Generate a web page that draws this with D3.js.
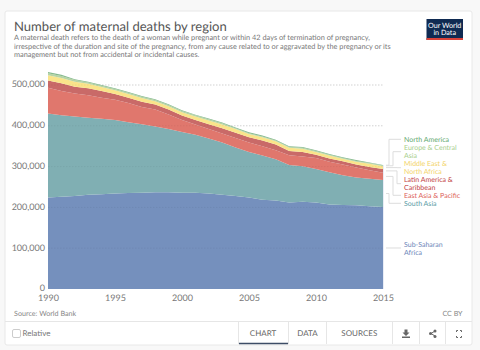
<!DOCTYPE html>
<html>
<head>
<meta charset="utf-8">
<script src="https://cdnjs.cloudflare.com/ajax/libs/d3/7.8.5/d3.min.js"></script>
<style>
    html, body { margin: 0; padding: 0; background: #f8f8f8; overflow: hidden; }
    text { font-family: Lato, "Open Sans", sans-serif; text-rendering: geometricPrecision; }
</style>
</head>
<body>
<svg id="chart" width="480" height="350"></svg>
<script>
const years = d3.range(1990, 2016);
const yTicks = [0, 100000, 200000, 300000, 400000, 500000];
const xTicks = [1990, 1995, 2000, 2005, 2010, 2015];

// values in thousands of deaths
const subSaharanAfrica = [224, 226, 228, 231, 232, 234, 235, 236, 237, 237, 236, 236, 234, 231, 228, 224, 219, 217, 212, 214, 212, 207, 206, 205, 203, 201];
const southAsia = [206, 200, 195, 189, 185, 180, 174, 168, 161, 155, 149, 142, 135, 128, 119, 112, 108, 101, 92, 87, 82, 79, 73, 68, 67, 66];
const eastAsiaPacific = [63, 59, 56, 55, 52, 50, 47, 42, 42, 36, 29, 25, 23, 22, 23, 23, 23, 22, 24, 24, 27, 26, 26, 25, 21, 18];
const latinAmerica = [18, 19, 17, 17, 16, 14, 13, 13, 12, 12, 11, 11, 12, 13, 13, 13, 14, 14, 10, 11, 8, 8, 8, 7, 8, 9];
const middleEast = [13, 13, 12, 11, 10, 9, 9, 9, 8, 8, 8, 9, 9, 9, 9, 8, 8, 8, 8, 8, 7, 7, 6, 7, 8, 7];
const europeCentralAsia = [5, 5, 4, 3, 3, 3, 3, 3, 3, 3, 3, 3, 3, 3, 2, 2, 2, 2, 2, 2, 2, 2, 2, 2, 2, 2];
const northAmerica = [3, 3, 2, 2, 2, 2, 2, 2, 2, 2, 2, 1, 2, 2, 2, 2, 2, 2, 2, 2, 2, 2, 2, 2, 1, 1];

const seriesValues = [subSaharanAfrica, southAsia, eastAsiaPacific, latinAmerica, middleEast, europeCentralAsia, northAmerica];
const seriesNames = ["Sub-Saharan Africa", "South Asia", "East Asia & Pacific", "Latin America & Caribbean", "Middle East & North Africa", "Europe & Central Asia", "North America"];
const areaColors = ["#7590bd", "#80afb3", "#e0776d", "#c96a68", "#fae48a", "#b7d4a2", "#85b98c"];
const labelColors = ["#6d86b9", "#5b9ba6", "#dd5f5a", "#c23f44", "#f3d46a", "#a9cf8d", "#5fa96f"];
const labelLines = [["Sub-Saharan", "Africa"], ["South Asia"], ["East Asia & Pacific"], ["Latin America &", "Caribbean"], ["Middle East &", "North Africa"], ["Europe & Central", "Asia"], ["North America"]];
const labelY = [244.3, 203.3, 195.3, 179.7, 163.7, 147.7, 139.3];
const elbowX = [396, 389, 393, 397, 397, 393, 389];

const svg = d3.select("#chart");

// card
svg.append("rect").attr("x", 5).attr("y", 11).attr("width", 467).attr("height", 334)
    .attr("fill", "#fff").attr("stroke", "#e8e8e8").attr("stroke-width", 1).attr("rx", 2);

// header
svg.append("text").attr("x", 14).attr("y", 30.5).attr("font-size", 13.05).attr("fill", "#555").text("Number of maternal deaths by region");
const subtitle = [
    "A maternal death refers to the death of a woman while pregnant or within 42 days of termination of pregnancy,",
    "irrespective of the duration and site of the pregnancy, from any cause related to or aggravated by the pregnancy or its",
    "management but not from accidental or incidental causes."
];
svg.selectAll(".sub").data(subtitle).enter().append("text")
    .attr("x", 14).attr("y", (d, i) => 40 + i * 8.5)
    .attr("font-size", 7.35).attr("fill", "#777").text(d => d);

// logo
svg.append("rect").attr("x", 426.5).attr("y", 19).attr("width", 36.5).attr("height", 21).attr("fill", "#0f2a52");
svg.append("rect").attr("x", 426.5).attr("y", 38).attr("width", 36.5).attr("height", 2).attr("fill", "#d9423a");
svg.append("text").attr("x", 444.7).attr("y", 27.5).attr("text-anchor", "middle").attr("font-size", 7.2).attr("fill", "#fff").text("Our World");
svg.append("text").attr("x", 444.7).attr("y", 35.3).attr("text-anchor", "middle").attr("font-size", 7.2).attr("fill", "#fff").text("in Data");

const x = d3.scaleLinear().domain([1990, 2015]).range([48, 383]);
const y = d3.scaleLinear().domain([0, 500000]).range([289, 85]);

// gridlines
svg.append("g").selectAll("line").data(yTicks.slice(1)).enter().append("line")
    .attr("x1", 48).attr("x2", 383).attr("y1", d => y(d)).attr("y2", d => y(d))
    .attr("stroke", "#ddd").attr("stroke-width", 1).attr("stroke-dasharray", "1.5,1.5");

const table = years.map((yr, i) => {
    const row = { year: yr };
    seriesNames.forEach((name, s) => { row[name] = seriesValues[s][i] * 1000; });
    return row;
});
const stacked = d3.stack().keys(seriesNames)(table);

const area = d3.area()
    .x(d => x(d.data.year))
    .y0(d => y(d[0]))
    .y1(d => y(d[1]));

svg.append("g").selectAll("path").data(stacked).enter().append("path")
    .attr("d", area)
    .attr("fill", (d, i) => areaColors[i]);

// gridlines showing faintly through the areas
svg.append("g").selectAll("line").data(yTicks.slice(1)).enter().append("line")
    .attr("x1", 48).attr("x2", 383).attr("y1", d => y(d)).attr("y2", d => y(d))
    .attr("stroke", "#000").attr("stroke-opacity", 0.05).attr("stroke-dasharray", "1.5,1.5");

// axes
const yAxis = svg.append("g").attr("transform", "translate(46,-1)")
    .call(d3.axisLeft(y).tickValues(yTicks).tickSize(0).tickPadding(1).tickFormat(d3.format(",")));
yAxis.select(".domain").remove();
yAxis.selectAll("text").attr("font-size", 9).attr("fill", "#777").style("font-family", "Lato");

const xAxis = svg.append("g").attr("transform", "translate(0,289)")
    .call(d3.axisBottom(x).tickValues(xTicks).tickSize(0).tickPadding(6).tickFormat(d3.format("d")));
xAxis.select(".domain").remove();
xAxis.selectAll("text").attr("font-size", 9).attr("fill", "#777").style("font-family", "Lato");

svg.append("line").attr("x1", 383.5).attr("x2", 383.5).attr("y1", y(304000)).attr("y2", 289)
    .attr("stroke", "#e8ecf6").attr("stroke-width", 1);

// end labels with connectors
stacked.forEach((layer, i) => {
    const last = layer[layer.length - 1];
    const yEnd = y((last[0] + last[1]) / 2);
    const n = labelLines[i].length;
    const yLab = i === 0 ? yEnd : labelY[i] + (n - 1) * 4;
    svg.append("path")
        .attr("d", `M386,${yEnd}H${elbowX[i]}V${yLab}H401`)
        .attr("fill", "none").attr("stroke", "#ddd").attr("stroke-width", 1);
    labelLines[i].forEach((line, k) => {
        svg.append("text").attr("x", 404).attr("y", labelY[i] + k * 7.9 + 2.5)
            .attr("font-size", 7).attr("fill", labelColors[i]).text(line);
    });
});

// footer
svg.append("text").attr("x", 14).attr("y", 315.5).attr("font-size", 7.2).attr("fill", "#888").text("Source: World Bank");
svg.append("text").attr("x", 462.5).attr("y", 315.5).attr("text-anchor", "end").attr("font-size", 7.1).attr("fill", "#888").text("CC BY");
svg.append("line").attr("x1", 5).attr("x2", 472).attr("y1", 321.5).attr("y2", 321.5).attr("stroke", "#e6e6e6");

svg.append("rect").attr("x", 12.5).attr("y", 329.5).attr("width", 8).attr("height", 8).attr("rx", 1.5)
    .attr("fill", "#fff").attr("stroke", "#ccc");
svg.append("text").attr("x", 22.5).attr("y", 336).attr("font-size", 8).attr("fill", "#777").text("Relative");

const tabNames = ["CHART", "DATA", "SOURCES"];
const tabCenters = [263, 307.5, 359.3];
svg.selectAll(".tab").data(tabNames).enter().append("text")
    .attr("x", (d, i) => tabCenters[i]).attr("y", 336).attr("text-anchor", "middle")
    .attr("font-size", 8).attr("fill", "#666").text(d => d);
[238.5, 288.5, 326.5, 392.5, 419.5, 445.5].forEach(px => {
    svg.append("line").attr("x1", px).attr("x2", px).attr("y1", 322).attr("y2", 344).attr("stroke", "#e6e6e6");
});
svg.append("line").attr("x1", 239).attr("x2", 288).attr("y1", 343.5).attr("y2", 343.5).attr("stroke", "#3d4d66").attr("stroke-width", 1.5);

// download icon
svg.append("path").attr("d", "M404.5,329.5h3v3h2l-3.5,3.5l-3.5,-3.5h2zM402,336.5h8v1.5h-8z").attr("fill", "#666");
// share icon
svg.append("path").attr("d", "M435,331L431,333.5L435,336").attr("fill", "none").attr("stroke", "#666");
svg.append("circle").attr("cx", 435).attr("cy", 331).attr("r", 1.5).attr("fill", "#666");
svg.append("circle").attr("cx", 430.5).attr("cy", 333.5).attr("r", 1.5).attr("fill", "#666");
svg.append("circle").attr("cx", 435).attr("cy", 336.5).attr("r", 1.5).attr("fill", "#666");
// fullscreen icon
svg.append("path").attr("d", "M456.5,332v-1.5h1.5M460,330.5h1.5v1.5M461.5,336v1.5h-1.5M458,337.5h-1.5v-1.5")
    .attr("fill", "none").attr("stroke", "#666").attr("stroke-width", 1);
</script>
</body>
</html>
